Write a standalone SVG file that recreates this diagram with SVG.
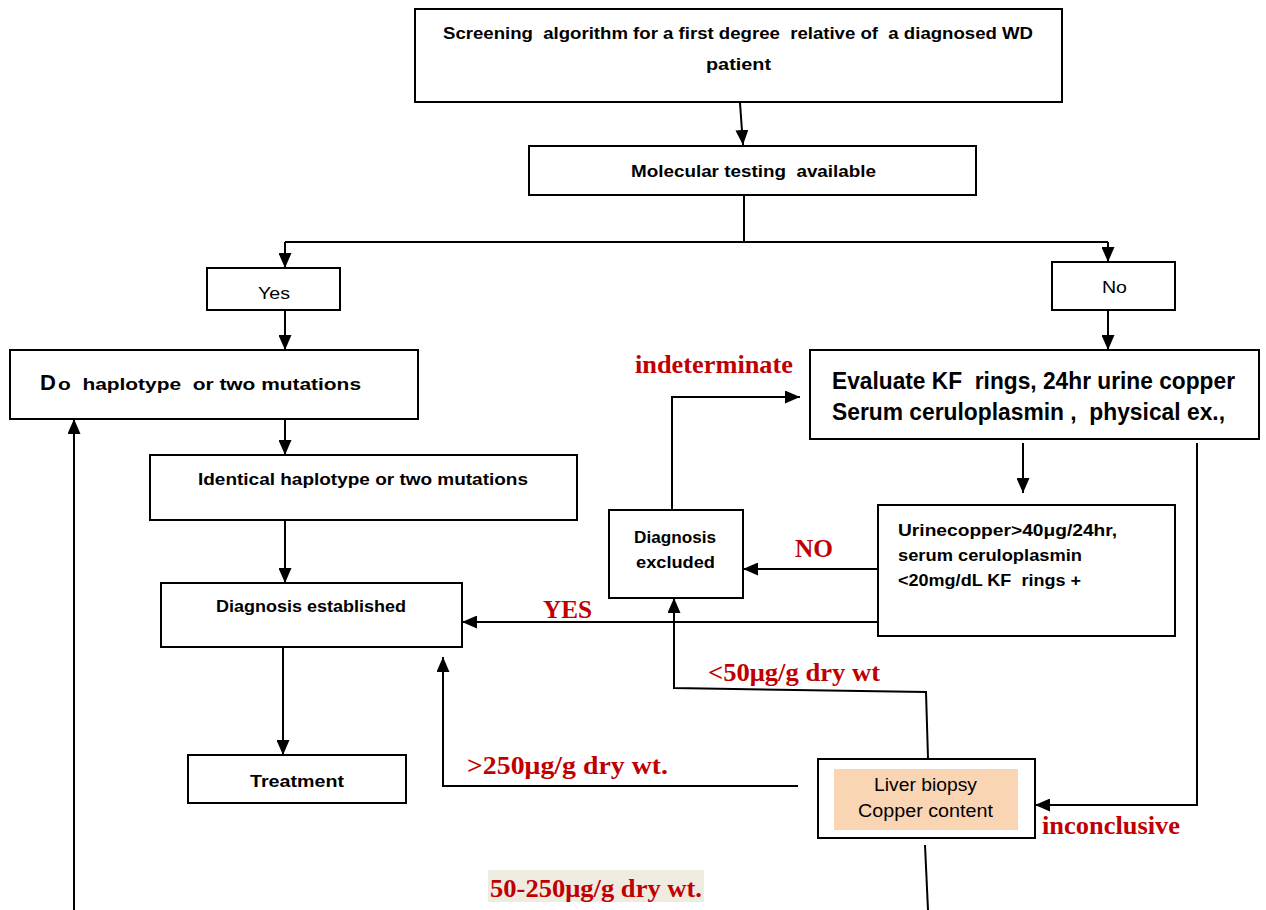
<svg xmlns="http://www.w3.org/2000/svg" width="1266" height="910" viewBox="0 0 1266 910">
  <style>
    text { white-space: pre; }
    .box { fill: #ffffff; stroke: #000000; stroke-width: 2; }
    .line { fill: none; stroke: #000000; stroke-width: 2; }
    .arrow { fill: none; stroke: #000000; stroke-width: 2; marker-end: url(#head); }
    .t { font-family: "Liberation Sans", Arial, sans-serif; font-weight: bold; fill: #000000; }
    .n { font-family: "Liberation Sans", Arial, sans-serif; fill: #000000; }
    .lbl { font-family: "Liberation Serif", "Times New Roman", serif; font-weight: bold; fill: #C00000; }
  </style>
  <defs>
    <marker id="head" markerUnits="userSpaceOnUse" markerWidth="15" markerHeight="13" refX="15" refY="6.5" orient="auto">
      <path d="M0,0 L15,6.5 L0,13 z" fill="#000000"/>
    </marker>
  </defs>
  <rect width="1266" height="910" fill="#ffffff"/>

  <!-- connectors -->
  <g id="connectors">
    <path class="arrow" d="M740,103 L743,145"/>
    <path class="line" d="M744,196 V242 M285,242 H1108"/>
    <path class="arrow" d="M285,242 V268"/>
    <path class="arrow" d="M1108,242 V262"/>
    <path class="arrow" d="M285,310 V350"/>
    <path class="arrow" d="M1108,310 V350"/>
    <path class="arrow" d="M285,419 V455"/>
    <path class="arrow" d="M285,520 V583"/>
    <path class="arrow" d="M283,647 V755"/>
    <path class="arrow" d="M1023,443 V493"/>
    <path class="arrow" d="M672,510 V397 H800"/>
    <path class="arrow" d="M878,569 H743"/>
    <path class="arrow" d="M878,622 H462"/>
    <path class="arrow" d="M1197,443 V805 H1035"/>
    <path class="arrow" d="M928,758 L926,692 L674,688 V598"/>
    <path class="arrow" d="M798,786 H443 V657"/>
    <path class="line" d="M925,845 L928,910"/>
    <path class="arrow" d="M74,910 V419"/>
  </g>

  <!-- edge labels -->
  <g id="labels">
    <text class="lbl" x="635" y="373" font-size="25" textLength="158" lengthAdjust="spacingAndGlyphs">indeterminate</text>
    <text class="lbl" x="795" y="557" font-size="25" textLength="38" lengthAdjust="spacingAndGlyphs">NO</text>
    <text class="lbl" x="543" y="618" font-size="25" textLength="49" lengthAdjust="spacingAndGlyphs">YES</text>
    <text class="lbl" x="708" y="681" font-size="25" textLength="172" lengthAdjust="spacingAndGlyphs">&lt;50μg/g dry wt</text>
    <text class="lbl" x="467" y="774" font-size="25" textLength="201" lengthAdjust="spacingAndGlyphs">&gt;250μg/g dry wt.</text>
    <text class="lbl" x="1042" y="834" font-size="25" textLength="138" lengthAdjust="spacingAndGlyphs">inconclusive</text>
    <rect x="488" y="870" width="216" height="32" fill="#EEEBE0"/>
    <text class="lbl" x="490" y="897" font-size="25" textLength="212" lengthAdjust="spacingAndGlyphs">50-250μg/g dry wt.</text>
  </g>

  <g id="screening">
    <rect class="box" x="415" y="9" width="647" height="93"/>
    <text class="t" x="443" y="39" font-size="17" textLength="590" lengthAdjust="spacingAndGlyphs">Screening  algorithm for a first degree  relative of  a diagnosed WD</text>
    <text class="t" x="706" y="70" font-size="17" textLength="65" lengthAdjust="spacingAndGlyphs">patient</text>
  </g>

  <g id="molecular">
    <rect class="box" x="529" y="146" width="447" height="49"/>
    <text class="t" x="631" y="177" font-size="17" textLength="245" lengthAdjust="spacingAndGlyphs">Molecular testing  available</text>
  </g>

  <g id="yes">
    <rect class="box" x="207" y="268" width="133" height="42"/>
    <text class="n" x="258" y="299" font-size="17" textLength="32" lengthAdjust="spacingAndGlyphs">Yes</text>
  </g>

  <g id="no">
    <rect class="box" x="1052" y="262" width="123" height="48"/>
    <text class="n" x="1102" y="293" font-size="17" textLength="25" lengthAdjust="spacingAndGlyphs">No</text>
  </g>

  <g id="do-haplotype">
    <rect class="box" x="10" y="350" width="408" height="69"/>
    <text class="t" x="40" y="390" font-size="22">D</text>
    <text class="t" x="58" y="390" font-size="17" textLength="303" lengthAdjust="spacingAndGlyphs">o  haplotype  or two mutations</text>
  </g>

  <g id="evaluate">
    <rect class="box" x="810" y="350" width="449" height="89"/>
    <text class="t" x="832" y="389" font-size="23" textLength="403" lengthAdjust="spacingAndGlyphs">Evaluate KF  rings, 24hr urine copper</text>
    <text class="t" x="832" y="420" font-size="23" textLength="393" lengthAdjust="spacingAndGlyphs">Serum ceruloplasmin ,  physical ex.,</text>
  </g>

  <g id="identical">
    <rect class="box" x="150" y="455" width="427" height="65"/>
    <text class="t" x="198" y="485" font-size="17" textLength="330" lengthAdjust="spacingAndGlyphs">Identical haplotype or two mutations</text>
  </g>

  <g id="diagnosis-excluded">
    <rect class="box" x="609" y="510" width="134" height="88"/>
    <text class="t" x="634" y="543" font-size="17" textLength="82" lengthAdjust="spacingAndGlyphs">Diagnosis</text>
    <text class="t" x="636" y="568" font-size="17" textLength="79" lengthAdjust="spacingAndGlyphs">excluded</text>
  </g>

  <g id="urine-criteria">
    <rect class="box" x="878" y="505" width="297" height="131"/>
    <text class="t" x="898" y="536" font-size="17" textLength="219" lengthAdjust="spacingAndGlyphs">Urinecopper&gt;40μg/24hr,</text>
    <text class="t" x="898" y="561" font-size="17" textLength="184" lengthAdjust="spacingAndGlyphs">serum ceruloplasmin</text>
    <text class="t" x="898" y="586" font-size="17" textLength="183" lengthAdjust="spacingAndGlyphs">&lt;20mg/dL KF  rings +</text>
  </g>

  <g id="diagnosis-established">
    <rect class="box" x="161" y="583" width="301" height="64"/>
    <text class="t" x="216" y="612" font-size="17" textLength="190" lengthAdjust="spacingAndGlyphs">Diagnosis established</text>
  </g>

  <g id="treatment">
    <rect class="box" x="188" y="755" width="218" height="48"/>
    <text class="t" x="250" y="787" font-size="17" textLength="94" lengthAdjust="spacingAndGlyphs">Treatment</text>
  </g>

  <g id="liver-biopsy">
    <rect class="box" x="818" y="759" width="217" height="79"/>
    <rect x="834" y="769" width="184" height="61" fill="#F9D5B4"/>
    <text class="n" x="874" y="791" font-size="18" textLength="103" lengthAdjust="spacingAndGlyphs">Liver biopsy</text>
    <text class="n" x="858" y="817" font-size="18" textLength="135" lengthAdjust="spacingAndGlyphs">Copper content</text>
  </g>
</svg>
